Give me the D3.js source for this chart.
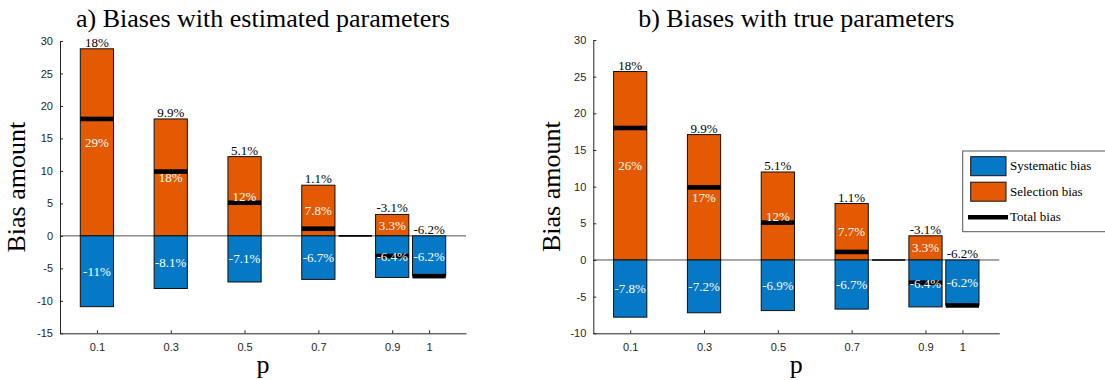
<!DOCTYPE html>
<html>
<head>
<meta charset="utf-8">
<script src="https://cdn.jsdelivr.net/npm/d3@7"></script>
<style>
  html, body { margin: 0; padding: 0; background: #fff; }
  svg { display: block; }
</style>
</head>
<body>
<svg id="chart" width="1105" height="380"></svg>
<script>
// ---------------- data ----------------
const pValues = [0.1, 0.3, 0.5, 0.7, 0.9, 1];
const xTickValues = [0.1, 0.3, 0.5, 0.7, 0.9, 1];
const xTickLabels = ["0.1", "0.3", "0.5", "0.7", "0.9", "1"];
const zeroBarP = [0.8];

const totalBias = [18, 9.9, 5.1, 1.1, -3.1, -6.2];

const selectionEstimated = [28.8, 18.0, 12.2, 7.8, 3.3, 0];
const systematicEstimated = [-10.9, -8.1, -7.1, -6.7, -6.4, -6.2];

const selectionTrue = [25.7, 17.1, 12.0, 7.7, 3.3, 0];
const systematicTrue = [-7.8, -7.2, -6.9, -6.7, -6.4, -6.2];

const yTicksEstimated = [-15, -10, -5, 0, 5, 10, 15, 20, 25, 30];
const yTicksTrue = [-10, -5, 0, 5, 10, 15, 20, 25, 30];

const legendLabels = ["Systematic bias", "Selection bias", "Total bias"];
const titles = ["a) Biases with estimated parameters", "b) Biases with true parameters"];

// ---------------- style ----------------
const BLUE = "#0679c6";
const ORANGE = "#e35a02";
const AXIS = "#262626";
const SERIF = '"Liberation Serif"';
const SANS = '"Liberation Sans"';
const fmtLocale = d3.formatLocale({decimal: ".", thousands: ",", grouping: [3], currency: ["", ""], minus: "-"});
const fmt2 = fmtLocale.format(".2r");
const pct = v => fmt2(v) + "%";

const svg = d3.select("#chart");

function serifText(sel, size) {
  return sel.style("font-family", SERIF).attr("font-size", size);
}

function drawPanel(cfg) {
  const x = d3.scaleLinear().domain([0, 1.1]).range([cfg.left, cfg.right]);
  const y = d3.scaleLinear().domain(cfg.yDomain).range([cfg.bottom, cfg.top]);
  const halfW = 0.045;
  const g = svg.append("g");

  const rows = pValues.map((p, i) => ({
    p, sel: cfg.selection[i], sys: cfg.systematic[i], tot: totalBias[i]
  }));

  // zero line
  g.append("line")
    .attr("x1", x(0)).attr("x2", x(1.1))
    .attr("y1", y(0)).attr("y2", y(0))
    .attr("stroke", AXIS).attr("stroke-width", 0.8);

  // selection bars (positive)
  g.selectAll("rect.sel").data(rows.filter(d => d.sel > 0)).join("rect")
    .attr("class", "sel")
    .attr("x", d => x(d.p - halfW))
    .attr("width", d => x(d.p + halfW) - x(d.p - halfW))
    .attr("y", d => y(d.sel))
    .attr("height", d => y(0) - y(d.sel))
    .attr("fill", ORANGE).attr("stroke", "#111").attr("stroke-width", 1);

  // systematic bars (negative)
  g.selectAll("rect.sys").data(rows).join("rect")
    .attr("class", "sys")
    .attr("x", d => x(d.p - halfW))
    .attr("width", d => x(d.p + halfW) - x(d.p - halfW))
    .attr("y", y(0))
    .attr("height", d => y(d.sys) - y(0))
    .attr("fill", BLUE).attr("stroke", "#111").attr("stroke-width", 1);

  // zero-height bar
  g.selectAll("line.zero").data(zeroBarP).join("line")
    .attr("class", "zero")
    .attr("x1", d => x(d - halfW)).attr("x2", d => x(d + halfW))
    .attr("y1", y(0)).attr("y2", y(0))
    .attr("stroke", "#000").attr("stroke-width", 1.6);

  // total bias markers
  g.selectAll("rect.tot").data(rows).join("rect")
    .attr("class", "tot")
    .attr("x", d => x(d.p - halfW))
    .attr("width", d => x(d.p + halfW) - x(d.p - halfW))
    .attr("y", d => y(d.tot) - 2.3)
    .attr("height", 4.6)
    .attr("fill", "#000");

  // labels: total above bar
  g.selectAll("text.totl").data(rows).join("text")
    .attr("class", "totl")
    .attr("x", d => x(d.p))
    .attr("y", d => y(Math.max(d.sel, 0)) - 2)
    .attr("text-anchor", "middle")
    .attr("fill", "#000")
    .call(serifText, 13)
    .text(d => pct(d.tot));

  g.selectAll("text.sell").data(rows.filter(d => d.sel > 0)).join("text")
    .attr("class", "sell")
    .attr("x", d => x(d.p))
    .attr("y", d => y(d.sel / 2))
    .attr("dy", "0.35em")
    .attr("text-anchor", "middle")
    .attr("fill", "#fff")
    .call(serifText, 13)
    .text(d => pct(d.sel));

  g.selectAll("text.sysl").data(rows).join("text")
    .attr("class", "sysl")
    .attr("x", d => x(d.p))
    .attr("y", d => y(d.sys / 2))
    .attr("dy", "0.35em")
    .attr("text-anchor", "middle")
    .attr("fill", "#fff")
    .call(serifText, 13)
    .text(d => pct(d.sys));

  // axes
  const yAxis = d3.axisLeft(y).tickValues(cfg.yTicks).tickFormat(d => String(d))
    .tickSizeInner(-3).tickSizeOuter(0).tickPadding(7);
  const ya = g.append("g").attr("transform", `translate(${x(0)},0)`).call(yAxis);

  const xAxis = d3.axisBottom(x).tickValues(xTickValues)
    .tickFormat((d, i) => xTickLabels[i])
    .tickSizeInner(-3).tickSizeOuter(0).tickPadding(10);
  const xa = g.append("g").attr("transform", `translate(0,${y(cfg.yDomain[0])})`).call(xAxis);

  [ya, xa].forEach(a => {
    a.attr("font-family", null).attr("font-size", null);
    a.select(".domain").attr("stroke", AXIS).attr("stroke-width", 1);
    a.selectAll(".tick line").attr("stroke", AXIS);
    a.selectAll(".tick text").attr("fill", AXIS).style("font-family", SANS).attr("font-size", 11);
  });

  // title
  g.append("text")
    .attr("x", (cfg.left + cfg.right) / 2).attr("y", 27)
    .attr("text-anchor", "middle")
    .attr("fill", "#000")
    .call(serifText, 26)
    .text(cfg.title);

  // y label
  g.append("text")
    .attr("transform", `translate(${cfg.left - cfg.ylabOffset},${(cfg.top + cfg.bottom) / 2}) rotate(-90)`)
    .attr("text-anchor", "middle")
    .attr("fill", "#000")
    .call(serifText, 26)
    .text("Bias amount");

  // x label
  g.append("text")
    .attr("x", (cfg.left + cfg.right) / 2).attr("y", 373)
    .attr("text-anchor", "middle")
    .attr("fill", "#000")
    .call(serifText, 26)
    .text("p");
}

drawPanel({
  left: 60, right: 466, top: 41, bottom: 333.3, ylabOffset: 35,
  yDomain: [-15, 30], yTicks: yTicksEstimated,
  selection: selectionEstimated, systematic: systematicEstimated,
  title: titles[0]
});

drawPanel({
  left: 593.3, right: 999.3, top: 40, bottom: 333.3, ylabOffset: 33,
  yDomain: [-10, 30], yTicks: yTicksTrue,
  selection: selectionTrue, systematic: systematicTrue,
  title: titles[1]
});

// legend
const leg = svg.append("g");
leg.append("rect")
  .attr("x", 962.7).attr("y", 151).attr("width", 160).attr("height", 80.7)
  .attr("fill", "#fff").attr("stroke", "#555").attr("stroke-width", 1);
const legendRows = [
  {type: "patch", color: BLUE, label: legendLabels[0], cy: 166.2},
  {type: "patch", color: ORANGE, label: legendLabels[1], cy: 191.7},
  {type: "line", color: "#000", label: legendLabels[2], cy: 217.3}
];
legendRows.forEach(r => {
  if (r.type === "patch") {
    leg.append("rect").attr("x", 970.7).attr("y", r.cy - 9.5).attr("width", 35.3).attr("height", 19)
      .attr("fill", r.color).attr("stroke", "#111").attr("stroke-width", 1);
  } else {
    leg.append("line").attr("x1", 968).attr("x2", 1008).attr("y1", r.cy).attr("y2", r.cy)
      .attr("stroke", r.color).attr("stroke-width", 4.6);
  }
  leg.append("text").attr("x", 1010).attr("y", r.cy).attr("dy", "0.32em")
    .attr("fill", "#000")
    .call(serifText, 13)
    .text(r.label);
});
</script>
</body>
</html>
